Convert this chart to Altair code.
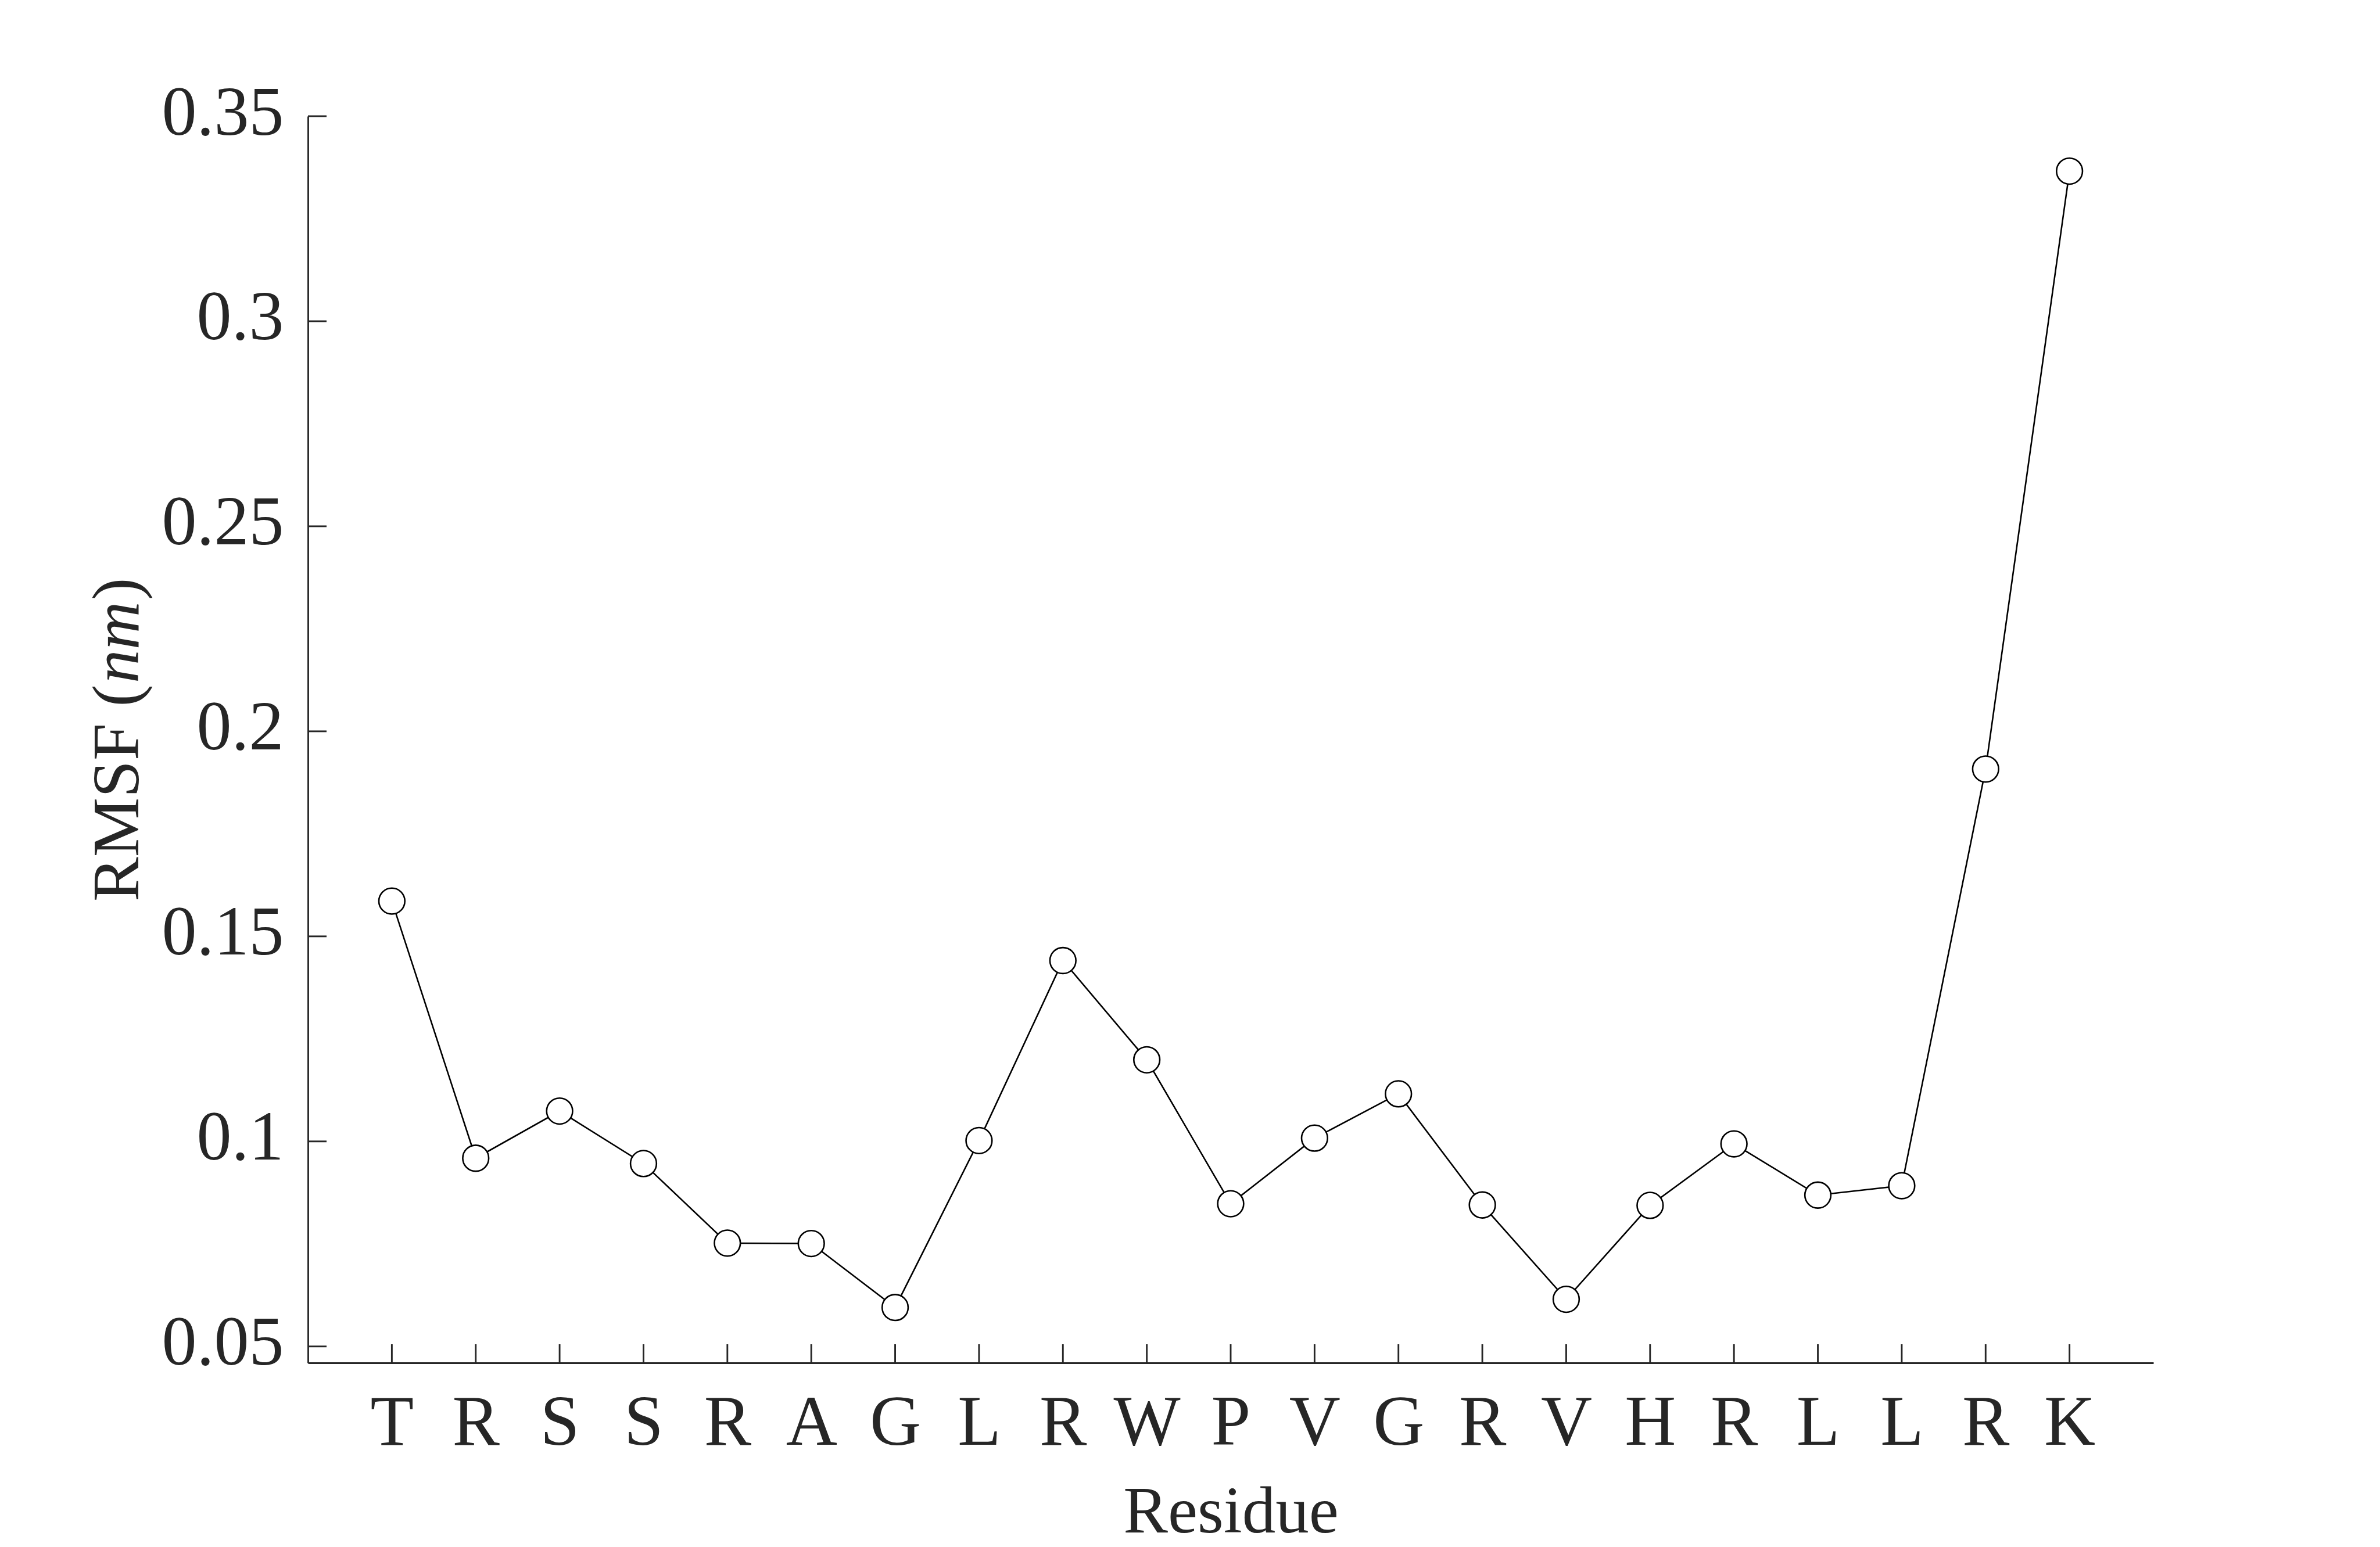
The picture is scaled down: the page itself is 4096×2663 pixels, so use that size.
import altair as alt
import pandas as pd

residues = ["T", "R", "S", "S", "R", "A", "G", "L", "R", "W", "P",
            "V", "G", "R", "V", "H", "R", "L", "L", "R", "K"]
rmsf = [0.1586, 0.0959, 0.1074, 0.0946, 0.0752, 0.0751, 0.0595, 0.1002,
        0.1441, 0.1199, 0.0848, 0.1008, 0.1116, 0.0845, 0.0615, 0.0844,
        0.0994, 0.0869, 0.0892, 0.1908, 0.3366]
y_ticks = [0.05, 0.1, 0.15, 0.2, 0.25, 0.3, 0.35]
x_domain = [0, 22]
y_domain = [0.046, 0.35]

FONT = "Liberation Serif"
AX = "#262626"
W, H = 3176, 2146

df = pd.DataFrame({"idx": list(range(1, len(residues) + 1)),
                   "res": residues, "rmsf": rmsf})
yt = pd.DataFrame({"v": y_ticks})

label_js = "[" + ",".join("'%s'" % r for r in residues) + "][datum.value - 1]"

xs = alt.Scale(domain=x_domain, nice=False, zero=False)
ys = alt.Scale(domain=y_domain, nice=False, zero=False)

x_axis = alt.Axis(values=list(range(1, len(residues) + 1)), labelExpr=label_js,
                  title="Residue", grid=False, ticks=False, labelOverlap=False,
                  labelFlush=False, labelLimit=2000, labelFont=FONT,
                  labelFontSize=122, labelColor=AX, labelBaseline="alphabetic",
                  labelPadding=140, titleFont=FONT, titleFontSize=115,
                  titleFontWeight="normal", titleColor=AX,
                  titleBaseline="alphabetic", titleY=291,
                  domainColor=AX, domainWidth=2.9)
y_axis = alt.Axis(values=y_ticks, format="~g", title=None, grid=False,
                  ticks=False, labelOverlap=False, labelFlush=False,
                  labelLimit=2000, labelFont=FONT, labelFontSize=120,
                  labelColor=AX, labelPadding=42, labelOffset=-5,
                  domainColor=AX, domainWidth=2.9)

base = alt.Chart(df)

line = base.mark_line(color="black", strokeWidth=2.6).encode(
    x=alt.X("idx:Q", scale=xs, axis=x_axis),
    y=alt.Y("rmsf:Q", scale=ys, axis=y_axis),
)
points = base.mark_point(shape="circle", filled=False, fill="white",
                         fillOpacity=1, stroke="black", strokeWidth=2.6,
                         size=2000, opacity=1).encode(
    x=alt.X("idx:Q", scale=xs),
    y=alt.Y("rmsf:Q", scale=ys),
)

x_ticks = base.mark_rule(color=AX, strokeWidth=2.9, y2Offset=-32).encode(
    x=alt.X("idx:Q", scale=xs),
    y=alt.datum(y_domain[0], scale=ys),
    y2=alt.datum(y_domain[0]),
)
y_tick_marks = alt.Chart(yt).mark_rule(color=AX, strokeWidth=2.9, x2Offset=32).encode(
    y=alt.Y("v:Q", scale=ys),
    x=alt.datum(x_domain[0], scale=xs),
    x2=alt.datum(x_domain[0]),
)

one = pd.DataFrame({"a": [0]})
def title_part(txt, ypos, style):
    return alt.Chart(one).mark_text(text=txt, angle=270, align="left",
                                    baseline="alphabetic", font=FONT,
                                    fontSize=115, fontStyle=style,
                                    color=AX).encode(
        x=alt.value(-292), y=alt.value(ypos))

t1 = title_part("RMSF (", 1352, "normal")
t2 = title_part("nm", 976, "italic")
t3 = title_part(")", 833, "normal")

chart = alt.layer(y_tick_marks, x_ticks, line, points, t1, t2, t3).properties(
    width=W, height=H,
    autosize=alt.AutoSizeParams(type="none"),
    padding={"left": 530, "top": 200, "right": 4096 - 530 - W,
             "bottom": 2663 - 200 - H},
    background="white",
).configure_view(stroke=None)

chart.save("out.html", embed_options={"renderer": "svg", "actions": False})
